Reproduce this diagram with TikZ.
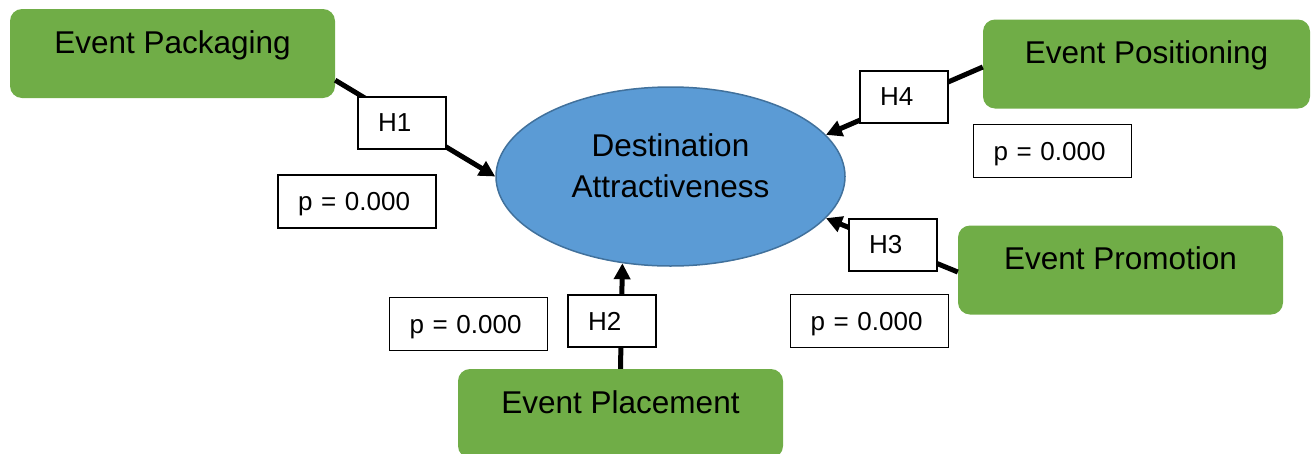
\documentclass[tikz,border=0pt]{standalone}
\usepackage{fontspec}
\setmainfont{Liberation Sans}
\usetikzlibrary{shapes.geometric,arrows.meta}
\definecolor{evgreen}{HTML}{70AD47}
\definecolor{destblue}{HTML}{5B9BD5}
\definecolor{destedge}{HTML}{41719C}
\tikzset{
  greenbox/.style={fill=evgreen, rounded corners=12pt, minimum width=325pt,
    inner xsep=0pt, inner ysep=0pt, text height=44pt, text depth=45pt,
    font=\fontsize{31.5}{38}\selectfont},
  hbox/.style={draw=black, line width=1.1pt, fill=white, inner xsep=20pt, inner ysep=0pt,
    text width=48pt, align=left, minimum height=52pt, font=\fontsize{26}{30}\selectfont},
  pbox/.style={hbox, text width=118pt, minimum height=53pt, text depth=0pt},
  conn/.style={line width=5pt, draw=black, -{Triangle[length=16pt,width=16pt]}}
}
\begin{document}
\begin{tikzpicture}[x=1pt,y=-1pt]
\useasboundingbox (0,0) rectangle (1311,453);
% main nodes
\node[greenbox] (pack) at (172.5,53.5) {Event Packaging};
\node[greenbox, minimum width=327pt] (pos) at (1146.5,64) {Event Positioning};
\node[greenbox] (prom) at (1120.5,270) {Event Promotion};
\node[greenbox] (place) at (620.5,413.5) {Event Placement};
\node[ellipse, fill=destblue, draw=destedge, line width=1.5pt, minimum width=349pt,
  minimum height=179pt, inner sep=0pt] (dest) at (670.5,176.5) {};
\node[align=center, font=\fontsize{31.5}{41}\selectfont] (desttxt) at (670.5,166) {Destination\\Attractiveness};
% connectors
\draw[conn] ([yshift=18pt]pack.south east) -- (dest.west);
\draw[conn] ([yshift=-3pt]pos.west) -- (dest.15);
\draw[conn] ([yshift=-2pt]prom.west) -- (dest.-15);
\draw[conn] (place.north) -- (dest.241);
% hypothesis labels
\node[hbox] (h1) at (402,123) {H1};
\node[hbox] (h4) at (904,97) {H4};
\node[hbox] (h3) at (893,245) {H3};
\node[hbox] (h2) at (612,321) {H2};
% p values
\node[pbox] (p1) at (357,201.5) {p = 0.000};
\node[pbox] (p4) at (1052.5,151) {p = 0.000};
\node[pbox] (p3) at (869.5,321) {p = 0.000};
\node[pbox] (p2) at (468.5,324) {p = 0.000};
\end{tikzpicture}
\end{document}
